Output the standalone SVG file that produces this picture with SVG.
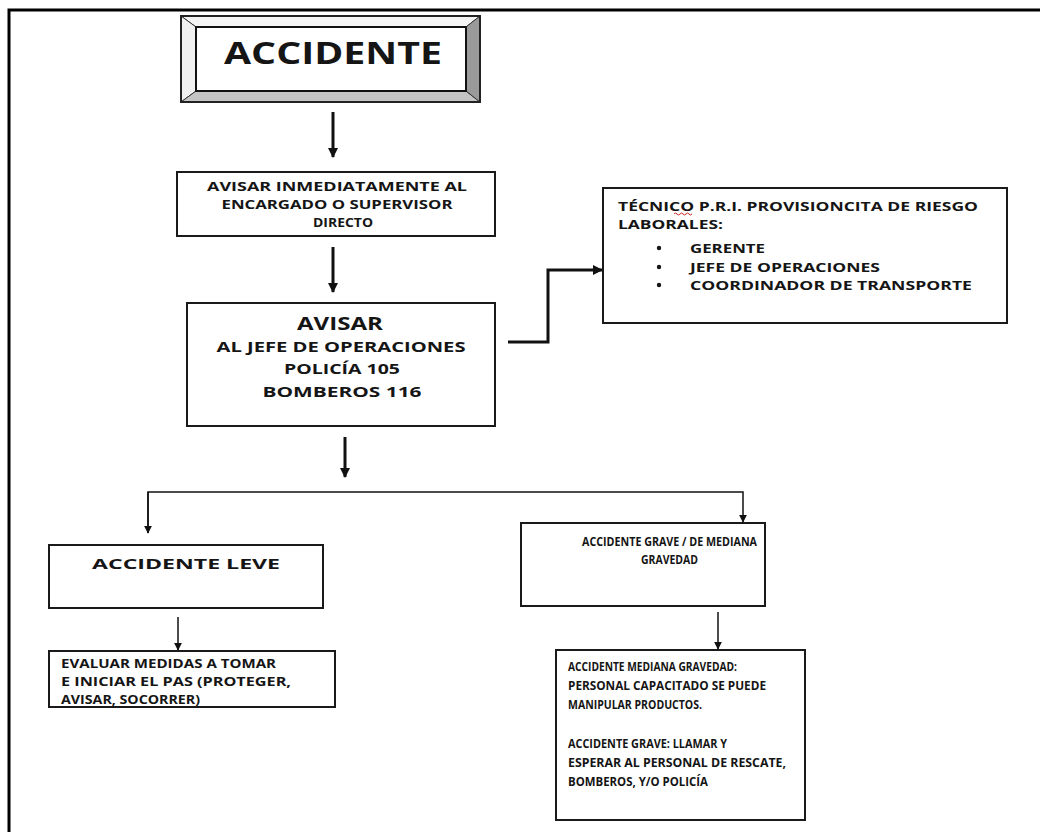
<svg xmlns="http://www.w3.org/2000/svg" width="1040" height="832" viewBox="0 0 1040 832">
<defs>
<style>
.t{font-family:"Open Sans","Liberation Sans",sans-serif;font-weight:bold;fill:#151515}
.box{fill:#fff;stroke:#1a1a1a;stroke-width:2}
.thick{fill:none;stroke:#111;stroke-width:3}
.thin{fill:none;stroke:#111;stroke-width:1.5}
</style>
<marker id="ah" viewBox="0 0 10 10" refX="9" refY="5" markerWidth="10" markerHeight="10" markerUnits="userSpaceOnUse" orient="auto"><path d="M0,0 L10,5 L0,10 z" fill="#111"/></marker>
<marker id="ahs" viewBox="0 0 10 10" refX="9" refY="5" markerWidth="8" markerHeight="8" markerUnits="userSpaceOnUse" orient="auto"><path d="M0,0 L10,5 L0,10 z" fill="#111"/></marker>
</defs>
<rect width="1040" height="832" fill="#fff"/>
<path d="M9,832 V10 H1040" fill="none" stroke="#000" stroke-width="3"/>

<g id="accidente">
<polygon points="181,16 480,16 466,27 196,27" fill="#f4f4f4" stroke="#333" stroke-width="1"/>
<polygon points="181,16 196,27 196,91 181,102" fill="#f0f0f0" stroke="#333" stroke-width="1"/>
<polygon points="181,102 196,91 466,91 480,102" fill="#c4c4c4" stroke="#333" stroke-width="1"/>
<polygon points="480,16 480,102 466,91 466,27" fill="#9a9a9a" stroke="#333" stroke-width="1"/>
<rect x="181" y="16" width="299" height="86" fill="none" stroke="#222" stroke-width="2"/>
<rect x="196" y="27" width="270" height="64" fill="#fff" stroke="#111" stroke-width="2"/>
<text class="t" x="333" y="64" font-size="30" text-anchor="middle" textLength="218" lengthAdjust="spacingAndGlyphs">ACCIDENTE</text>
</g>

<g id="avisar-inmediato">
<rect class="box" x="177" y="172" width="318" height="64"/>
<text class="t" x="337" y="191" font-size="12" text-anchor="middle" textLength="260" lengthAdjust="spacingAndGlyphs">AVISAR  INMEDIATAMENTE   AL</text>
<text class="t" x="337" y="209" font-size="12" text-anchor="middle" textLength="231" lengthAdjust="spacingAndGlyphs">ENCARGADO O SUPERVISOR</text>
<text class="t" x="343" y="227" font-size="12" text-anchor="middle" textLength="60" lengthAdjust="spacingAndGlyphs">DIRECTO</text>
</g>

<g id="avisar">
<rect class="box" x="187" y="303" width="308" height="123"/>
<text class="t" x="340" y="330" font-size="18" text-anchor="middle" textLength="86" lengthAdjust="spacingAndGlyphs">AVISAR</text>
<text class="t" x="341" y="352" font-size="13.5" text-anchor="middle" textLength="249" lengthAdjust="spacingAndGlyphs">AL JEFE DE OPERACIONES</text>
<text class="t" x="342" y="374" font-size="13.5" text-anchor="middle" textLength="116" lengthAdjust="spacingAndGlyphs">POLICÍA 105</text>
<text class="t" x="342" y="397" font-size="13.5" text-anchor="middle" textLength="159" lengthAdjust="spacingAndGlyphs">BOMBEROS 116</text>
</g>

<g id="tecnico">
<rect class="box" x="603" y="188" width="404" height="135"/>
<text class="t" x="618" y="211" font-size="13" textLength="360" lengthAdjust="spacingAndGlyphs">TÉCNICO  P.R.I. PROVISIONCITA  DE RIESGO</text>
<path d="M674,214 q1.5,-2 3,0 t3,0 t3,0 t3,0 t3,0 t3,0" fill="none" stroke="#d02020" stroke-width="1"/>
<text class="t" x="618" y="229" font-size="13" textLength="105" lengthAdjust="spacingAndGlyphs">LABORALES:</text>
<circle cx="659" cy="248" r="2.2" fill="#151515"/>
<circle cx="659" cy="267" r="2.2" fill="#151515"/>
<circle cx="659" cy="285" r="2.2" fill="#151515"/>
<text class="t" x="690" y="253" font-size="13" textLength="75" lengthAdjust="spacingAndGlyphs">GERENTE</text>
<text class="t" x="690" y="272" font-size="13" textLength="190" lengthAdjust="spacingAndGlyphs">JEFE DE OPERACIONES</text>
<text class="t" x="690" y="290" font-size="13" textLength="282" lengthAdjust="spacingAndGlyphs">COORDINADOR DE TRANSPORTE</text>
</g>

<g id="leve">
<rect class="box" x="49" y="545" width="274" height="63"/>
<text class="t" x="186" y="569" font-size="15" text-anchor="middle" textLength="188" lengthAdjust="spacingAndGlyphs">ACCIDENTE LEVE</text>
</g>

<g id="grave">
<rect class="box" x="521" y="523" width="244" height="83"/>
<text class="t" x="582" y="546" font-size="12" textLength="175" lengthAdjust="spacingAndGlyphs">ACCIDENTE GRAVE  / DE MEDIANA</text>
<text class="t" x="641" y="564" font-size="12" textLength="57" lengthAdjust="spacingAndGlyphs">GRAVEDAD</text>
</g>

<g id="evaluar">
<rect class="box" x="49" y="651" width="286" height="56"/>
<text class="t" x="61" y="668" font-size="12" textLength="215" lengthAdjust="spacingAndGlyphs">EVALUAR  MEDIDAS   A TOMAR</text>
<text class="t" x="61" y="686" font-size="12" textLength="230" lengthAdjust="spacingAndGlyphs">E INICIAR  EL PAS (PROTEGER,</text>
<text class="t" x="61" y="704" font-size="12" textLength="139" lengthAdjust="spacingAndGlyphs">AVISAR,  SOCORRER)</text>
</g>

<g id="mediana">
<rect class="box" x="556" y="650" width="249" height="170"/>
<text class="t" x="568" y="671" font-size="12" textLength="169" lengthAdjust="spacingAndGlyphs">ACCIDENTE MEDIANA GRAVEDAD:</text>
<text class="t" x="568" y="690" font-size="12" textLength="198" lengthAdjust="spacingAndGlyphs">PERSONAL CAPACITADO  SE PUEDE</text>
<text class="t" x="568" y="709" font-size="12" textLength="134" lengthAdjust="spacingAndGlyphs">MANIPULAR PRODUCTOS.</text>
<text class="t" x="568" y="748" font-size="12" textLength="159" lengthAdjust="spacingAndGlyphs">ACCIDENTE GRAVE:  LLAMAR Y</text>
<text class="t" x="568" y="767" font-size="12" textLength="218" lengthAdjust="spacingAndGlyphs">ESPERAR AL PERSONAL DE RESCATE,</text>
<text class="t" x="568" y="786" font-size="12" textLength="140" lengthAdjust="spacingAndGlyphs">BOMBEROS,  Y/O POLICÍA</text>
</g>

<g id="connectors">
<path class="thick" d="M333,112 V157" marker-end="url(#ah)"/>
<path class="thick" d="M333,247 V292" marker-end="url(#ah)"/>
<path class="thick" d="M508,342 H548 V270 H602" marker-end="url(#ah)"/>
<path class="thick" d="M345,437 V477" marker-end="url(#ah)"/>
<path class="thin" d="M148,533 V492 H743 V522" marker-end="url(#ahs)"/>
<path class="thin" d="M148,492 V533" marker-end="url(#ahs)"/>
<path class="thin" d="M178,617 V650" marker-end="url(#ahs)"/>
<path class="thin" d="M718,612 V649" marker-end="url(#ahs)"/>
</g>
</svg>
